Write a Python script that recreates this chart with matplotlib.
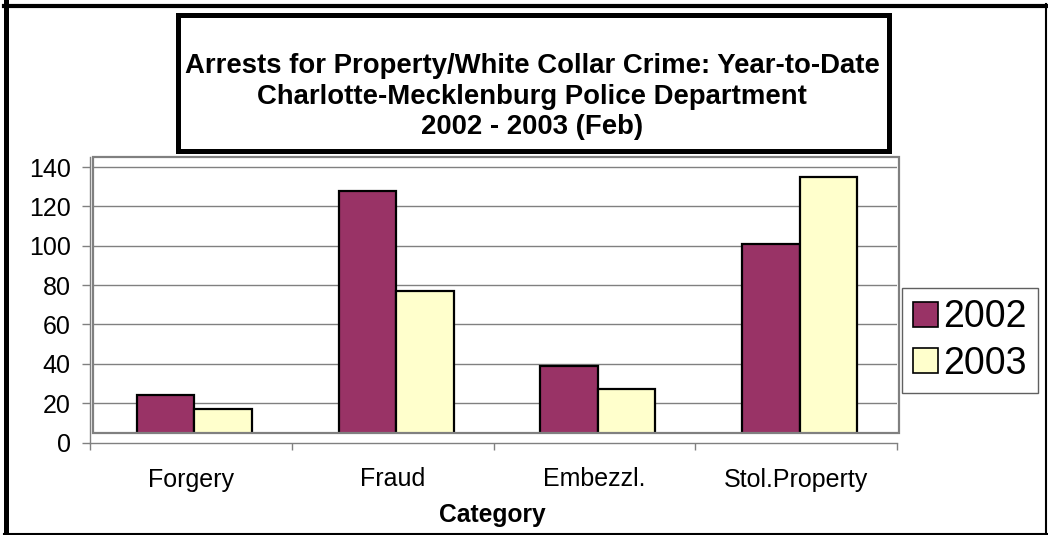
import matplotlib
matplotlib.use('Agg')
import matplotlib.pyplot as plt
from matplotlib.patches import Rectangle, Patch
from matplotlib.lines import Line2D
import numpy as np

plt.rcParams['font.family'] = ['Liberation Sans', 'DejaVu Sans']

# data
categories = ['Forgery', 'Fraud', 'Embezzl.', 'Stol.Property']
arrests_2002 = [24, 128, 39, 101]
arrests_2003 = [17, 77, 27, 135]
series_names = ['2002', '2003']
title_lines = ['Arrests for Property/White Collar Crime: Year-to-Date',
               'Charlotte-Mecklenburg Police Department',
               '2002 - 2003 (Feb)']
yticks = [0, 20, 40, 60, 80, 100, 120, 140]

W, H = 1048, 535
fig = plt.figure(figsize=(W / 100, H / 100), dpi=100)
fig.patch.set_facecolor('white')

def fx(px):
    return px / W

def fy(py):
    return 1 - py / H

# axes: y=0 at pixel 442.5, x from category boundary -0.5 (px 90) to 3.5 (px 897)
ax = fig.add_axes([fx(90), fy(442.5), fx(897) - fx(90), (442.5 - 157) / H])
ax.set_xlim(-0.5, 3.5)
ax.set_ylim(0, 145.1)
ax.patch.set_alpha(0)

gray = '#808080'
frame_x0, frame_x1, frame_y0, frame_y1 = -0.485, 3.51, 4.8, 145.1
frame = Rectangle((frame_x0, frame_y0), frame_x1 - frame_x0, frame_y1 - frame_y0,
                  facecolor='none', edgecolor=gray, lw=1.6, zorder=4, clip_on=False)
ax.add_patch(frame)

ax.hlines(yticks[1:], frame_x0, frame_x1, colors=gray, lw=1, zorder=1)

x = np.arange(len(categories))
w = 0.285
b1 = ax.bar(x - w / 2 + 0.017, arrests_2002, w, color='#993366', edgecolor='black', lw=1.6, zorder=3)
b2 = ax.bar(x + w / 2 + 0.017, arrests_2003, w, color='#FFFFCC', edgecolor='black', lw=1.6, zorder=3)
clip = Rectangle((frame_x0, frame_y0), frame_x1 - frame_x0, frame_y1 - frame_y0,
                 transform=ax.transData, facecolor='none', edgecolor='none')
for bar in list(b1) + list(b2):
    bar.set_clip_path(clip)

for s in ['top', 'right']:
    ax.spines[s].set_visible(False)
for s in ['left', 'bottom']:
    ax.spines[s].set_color(gray)
    ax.spines[s].set_linewidth(1)

ax.set_yticks(yticks)
ax.set_yticklabels([str(v) for v in yticks])
ax.tick_params(axis='y', direction='out', length=6, width=1, color=gray,
               labelsize=18, pad=8)
ax.set_xticks(np.arange(-0.5, 4, 1))
ax.set_xticklabels([])
ax.set_xticks(x, minor=True)
ax.set_xticklabels(categories, minor=True)
ax.tick_params(axis='x', which='major', direction='out', length=5, width=1, color=gray)
ax.tick_params(axis='x', which='minor', length=0, labelsize=18, pad=18)

fig.text(fx(492), fy(515), 'Category', fontsize=17.7, fontweight='bold',
         ha='center', va='center')

# title box
fig.add_artist(Rectangle((fx(177.5), fy(150.5)), fx(888.5) - fx(177.5), fy(15.5) - fy(150.5),
                         transform=fig.transFigure, facecolor='white', edgecolor='black',
                         lw=3.6, zorder=5))
for line, py in zip(title_lines, [66, 97, 127]):
    fig.text(fx(532), fy(py), line, fontsize=19.8, fontweight='bold',
             ha='center', va='center', zorder=6)

# legend
handles = [Patch(facecolor='#993366', edgecolor='black', lw=1.2),
           Patch(facecolor='#FFFFCC', edgecolor='black', lw=1.2)]
leg = fig.legend(handles, series_names, loc='center left',
                 bbox_to_anchor=(fx(902), fy(340.5)), fontsize=27,
                 handlelength=0.65, handleheight=0.65, handletextpad=0.15,
                 borderpad=0.3, labelspacing=0.28, borderaxespad=0,
                 fancybox=False, framealpha=1, edgecolor='#606060')
leg.get_frame().set_linewidth(1)

# outer border
fig.add_artist(Line2D([fx(6), fx(6)], [fy(2), fy(534)], color='black', lw=3.6, transform=fig.transFigure))
fig.add_artist(Line2D([fx(4), fx(1047)], [fy(5.5), fy(5.5)], color='black', lw=3, transform=fig.transFigure))
fig.add_artist(Line2D([fx(1046), fx(1046)], [fy(4), fy(534)], color='black', lw=1.5, transform=fig.transFigure))
fig.add_artist(Line2D([fx(4), fx(1047)], [fy(533.5), fy(533.5)], color='black', lw=1.5, transform=fig.transFigure))

fig.savefig('out.png', dpi=100)
